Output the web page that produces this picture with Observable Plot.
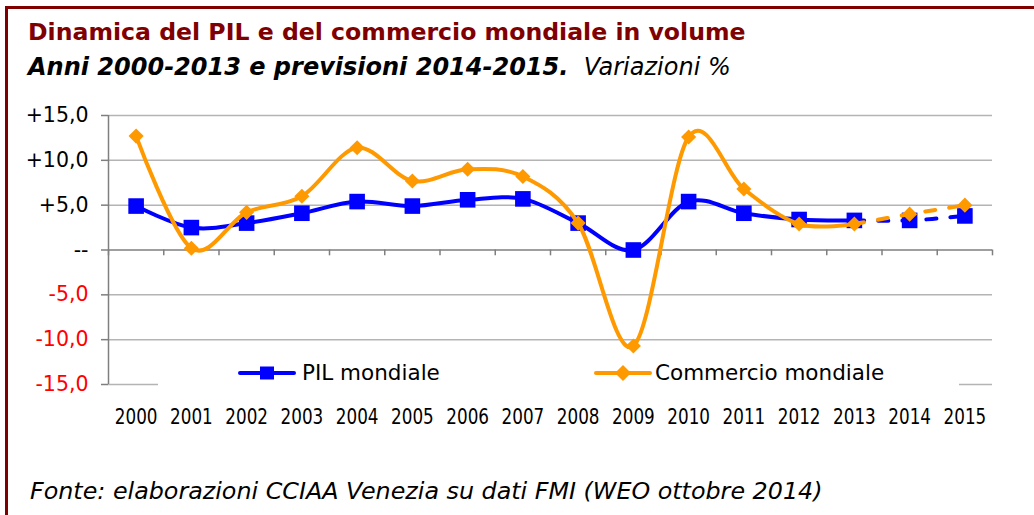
<!DOCTYPE html>
<html><head><meta charset="utf-8">
<script src="https://cdn.jsdelivr.net/npm/d3@7"></script>
<script src="https://cdn.jsdelivr.net/npm/@observablehq/plot@0.6"></script>
<style>
body{margin:0;background:#fff;}
#wrap{position:relative;width:1034px;height:515px;overflow:hidden;background:#fff;font-family:"DejaVu Sans",sans-serif;}
#frame{position:absolute;left:5px;top:6px;right:-10px;bottom:-10px;border-top:3px solid #800000;border-left:3px solid #800000;}
#title{position:absolute;left:28px;top:21px;font-weight:bold;font-size:23.6px;color:#800000;white-space:nowrap;line-height:1}
#subtitle{position:absolute;left:28px;top:55px;font-size:24px;color:#000;font-style:italic;white-space:nowrap;line-height:1}
#chart{position:absolute;left:0;top:100px;}
#legend{position:absolute;left:158px;top:360px;width:801px;height:30px;background:#fff;}
#legend span{position:absolute;top:2px;font-size:21.5px;line-height:1;color:#000;white-space:nowrap}
#legend svg{position:absolute;top:0}
#caption{position:absolute;left:30px;top:480px;font-style:italic;font-size:23.8px;color:#000;white-space:nowrap;line-height:1}
</style>
</head><body>
<div id="wrap">
  <div id="frame"></div>
  <div id="title">Dinamica del PIL e del commercio mondiale in volume</div>
  <div id="subtitle"><b>Anni 2000-2013 e previsioni 2014-2015.</b>&nbsp; Variazioni %</div>
  <div id="chart"></div>
  <div id="legend"></div>
  <div id="caption">Fonte: elaborazioni CCIAA Venezia su dati FMI (WEO ottobre 2014)</div>
</div>
<script>
// ---- data ----
const years = [2000, 2001, 2002, 2003, 2004, 2005, 2006, 2007, 2008, 2009, 2010, 2011, 2012, 2013, 2014, 2015];
const pilMondiale = [4.9, 2.5, 3.0, 4.1, 5.4, 4.9, 5.6, 5.7, 3.0, 0.0, 5.4, 4.1, 3.4, 3.3, 3.3, 3.8];
const commercioMondiale = [12.7, 0.2, 4.2, 6.0, 11.4, 7.7, 9.0, 8.2, 3.0, -10.7, 12.6, 6.8, 2.9, 2.9, 4.0, 5.0];
const lastActualYear = 2013;
const seriesNames = ["PIL mondiale", "Commercio mondiale"];
const yTicks = [15, 10, 5, 0, -5, -10, -15];

const rows = years.map((year, i) => ({year, pil: pilMondiale[i], comm: commercioMondiale[i]}));
const actual = rows.filter(d => d.year <= lastActualYear);
const forecast = rows.filter(d => d.year >= lastActualYear);
const bounds = [years[0] - 0.5, ...years.map(y => y + 0.5)];
const fmt = v => v === 0 ? "--" : (v > 0 ? "+" : "") + v.toFixed(1).replace(".", ",");

const blue = "#0000ff", orange = "#ff9900";

const chart = Plot.plot({
  width: 1034, height: 340,
  marginLeft: 108, marginRight: 42, marginTop: 15, marginBottom: 56,
  x: {domain: [bounds[0], bounds[bounds.length - 1]], axis: null},
  y: {domain: [-15, 15], axis: null},
  style: {fontFamily: "DejaVu Sans", background: "transparent", overflow: "visible"},
  marks: [
    Plot.ruleY(yTicks.filter(v => v !== 0), {stroke: "#b4b4b4", strokeWidth: 1.5}),
    Plot.ruleY([0], {stroke: "#7f7f7f", strokeWidth: 1.5}),
    Plot.ruleX(bounds, {y1: 0, y2: -0.65, stroke: "#7f7f7f", strokeWidth: 1.5}),
    Plot.ruleX([bounds[0]], {y1: -15, y2: 15, stroke: "#7f7f7f", strokeWidth: 1.5}),
    Plot.axisY({ticks: yTicks.filter(v => v >= 0), anchor: "left", label: null, tickSize: 7, tickPadding: 13, stroke: "#7f7f7f", strokeWidth: 1.5, fill: "#000", fontSize: 20.5, tickFormat: fmt}),
    Plot.axisY({ticks: yTicks.filter(v => v < 0), anchor: "left", label: null, tickSize: 7, tickPadding: 13, stroke: "#7f7f7f", strokeWidth: 1.5, fill: "#ff0000", fontSize: 20.5, tickFormat: fmt}),
    Plot.axisX({ticks: years, anchor: "bottom", label: null, tickSize: 0, tickPadding: 25, fill: "#000", fontSize: 21, fontFamily: "DejaVu Sans", tickFormat: d => String(d)}),
    Plot.line(actual, {x: "year", y: "pil", stroke: blue, strokeWidth: 4, curve: "cardinal"}),
    Plot.line(forecast, {x: "year", y: "pil", stroke: blue, strokeWidth: 4, curve: "cardinal", strokeDasharray: "10,14"}),
    Plot.dot(rows, {x: "year", y: "pil", symbol: "square", r: 8.8, fill: blue, stroke: null}),
    Plot.line(actual, {x: "year", y: "comm", stroke: orange, strokeWidth: 4, curve: "cardinal"}),
    Plot.line(forecast, {x: "year", y: "comm", stroke: orange, strokeWidth: 4, curve: "cardinal", strokeDasharray: "10,14"}),
    Plot.dot(rows, {x: "year", y: "comm", symbol: "diamond2", r: 6.8, fill: orange, stroke: null})
  ]
});
document.getElementById("chart").appendChild(chart);

// condense the year labels horizontally (reference uses a narrow face)
chart.querySelectorAll("text").forEach(t => {
  if (!/^\d{4}$/.test(t.textContent.trim())) return;
  const tr = t.getAttribute("transform") || "";
  const x = t.getAttribute("x");
  if (x != null) t.setAttribute("transform", `${tr} translate(${x},0) scale(0.8,1) translate(${-x},0)`);
  else t.setAttribute("transform", `${tr} scale(0.8,1)`);
});

// ---- legend ----
const lg = document.getElementById("legend");
lg.innerHTML = `
<svg style="left:80px" width="60" height="28"><line x1="2" x2="56" y1="13" y2="13" stroke="${blue}" stroke-width="4" stroke-linecap="round"/><rect x="22" y="6.5" width="14" height="13" fill="${blue}"/></svg>
<span style="left:144px">${seriesNames[0]}</span>
<svg style="left:436px" width="60" height="28"><line x1="2" x2="56" y1="13" y2="13" stroke="${orange}" stroke-width="4" stroke-linecap="round"/><path d="M29,5 L37,13 L29,21 L21,13 Z" fill="${orange}"/></svg>
<span style="left:497px">${seriesNames[1]}</span>`;
</script>
</body></html>
